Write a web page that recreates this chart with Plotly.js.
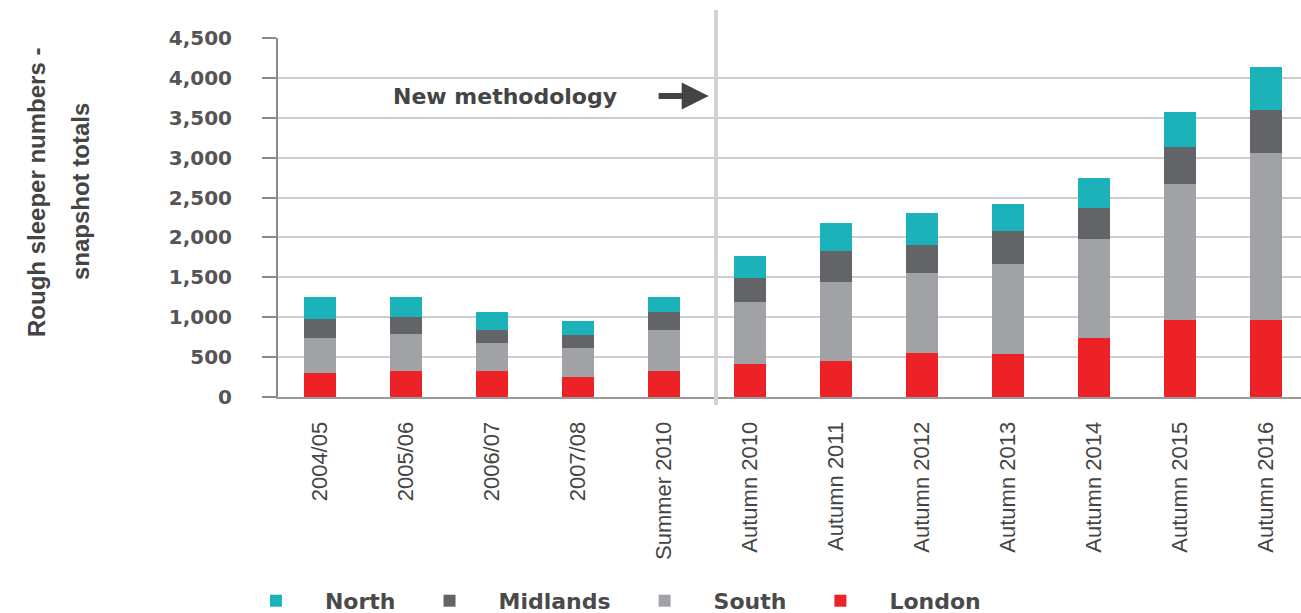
<!DOCTYPE html>
<html>
<head>
<meta charset="utf-8">
<script src="https://cdn.plot.ly/plotly-3.0.1.min.js"></script>
<style>html,body{margin:0;padding:0;background:#fff;}#chart{width:1301px;height:613px;}</style>
</head>
<body>
<div id="chart"></div>
<script>
const categories = ["2004/05","2005/06","2006/07","2007/08","Summer 2010","Autumn 2010","Autumn 2011","Autumn 2012","Autumn 2013","Autumn 2014","Autumn 2015","Autumn 2016"];
const london   = [300, 325, 325, 255, 325, 415, 446, 557, 543, 742, 960, 964];
const south    = [440, 465, 350, 360, 520, 770, 1000, 1000, 1120, 1237, 1712, 2093];
const midlands = [235, 210, 165, 160, 215, 310, 385, 352, 415, 390, 460, 536];
const north    = [275, 250, 230, 180, 190, 273, 350, 400, 336, 375, 437, 541];
const seriesNames = ["London", "South", "Midlands", "North"];
const yTickVals = [0, 500, 1000, 1500, 2000, 2500, 3000, 3500, 4000, 4500];
const yTitleLines = ["Rough sleeper numbers -", "snapshot totals"];

const colors = {London: "#ec2227", South: "#a1a2a5", Midlands: "#636467", North: "#1bb3b9"};
const valuesBy = {London: london, South: south, Midlands: midlands, North: north};

const traces = seriesNames.map(n => ({
  type: "bar",
  name: n,
  x: categories,
  y: valuesBy[n],
  width: 0.37,
  marker: {color: colors[n], line: {width: 0}},
  hoverinfo: "x+y+name"
}));

const bold = "DejaVu Sans, Verdana, sans-serif";
const narrow = "Liberation Sans Narrow, Arial Narrow, Liberation Sans, sans-serif";

const layout = {
  width: 1301, height: 613,
  margin: {l: 278, r: 0, t: 38, b: 216, autoexpand: false},
  paper_bgcolor: "#ffffff",
  plot_bgcolor: "#ffffff",
  barmode: "stack",
  bargap: 0,
  showlegend: true,
  legend: {
    orientation: "h", traceorder: "reversed",
    x: -0.0499, xanchor: "left", y: -0.568, yanchor: "middle",
    font: {family: bold, size: 22, color: "#4a4a4a", weight: "bold"},
    itemwidth: 88
  },
  xaxis: {
    type: "category",
    range: [-0.488, 11.407],
    tickangle: -90,
    ticks: "",
    showgrid: false,
    showline: true, linecolor: "#9a9a9a", linewidth: 2,
    tickfont: {family: narrow, size: 22, color: "#444444"},
    ticklabelstandoff: 14,
    zeroline: false
  },
  yaxis: {
    range: [0, 4500],
    tickvals: yTickVals,
    tickformat: ",d",
    ticks: "outside", ticklen: 14, tickcolor: "#8a8a8a", tickwidth: 2,
    showline: true, linecolor: "#8a8a8a", linewidth: 2,
    showgrid: true, gridcolor: "#cdcdcd", gridwidth: 2,
    zeroline: false,
    tickfont: {family: bold, size: 20, color: "#555555", weight: "bold"},
    ticklabelstandoff: 26
  },
  shapes: [{
    type: "line", xref: "x", yref: "paper",
    x0: 4.605, x1: 4.605, y0: -0.022, y1: 1.078,
    line: {color: "#d2d2d2", width: 4}
  }],
  annotations: [
    {
      xref: "paper", yref: "paper", x: -0.2366, y: 0.571,
      text: yTitleLines[0],
      textangle: -90, showarrow: false,
      xanchor: "center", yanchor: "middle",
      font: {family: narrow, size: 24, color: "#444444", weight: "bold"}
    },
    {
      xref: "paper", yref: "paper", x: -0.1935, y: 0.571,
      text: yTitleLines[1],
      textangle: -90, showarrow: false,
      xanchor: "center", yanchor: "middle",
      font: {family: narrow, size: 24, color: "#444444", weight: "bold"}
    },
    {
      xref: "x", yref: "y", x: 2.15, y: 3773,
      text: "New methodology", showarrow: false,
      xanchor: "center", yanchor: "middle",
      font: {family: bold, size: 22, color: "#444444", weight: "bold"}
    },
    {
      xref: "x", yref: "y", x: 4.52, y: 3773,
      ax: 3.92, ay: 3773, axref: "x", ayref: "y",
      text: "", showarrow: true, arrowhead: 2, arrowsize: 0.9, arrowwidth: 6,
      arrowcolor: "#444444"
    }
  ]
};

Plotly.newPlot("chart", traces, layout, {displayModeBar: false, staticPlot: true});
</script>
</body>
</html>
